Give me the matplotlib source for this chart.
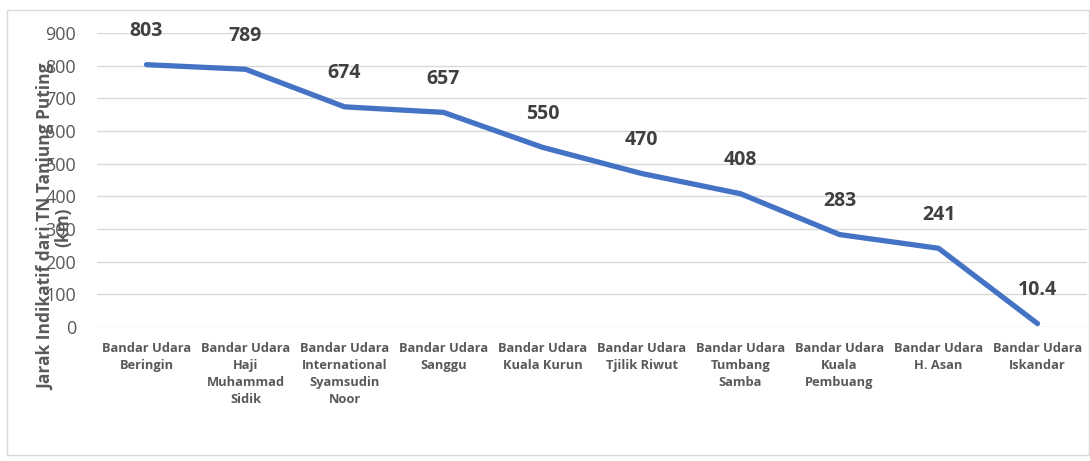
import matplotlib
matplotlib.use("Agg")
import matplotlib.pyplot as plt
from matplotlib.patches import Rectangle

categories = [
    "Bandar Udara\nBeringin",
    "Bandar Udara\nHaji\nMuhammad\nSidik",
    "Bandar Udara\nInternational\nSyamsudin\nNoor",
    "Bandar Udara\nSanggu",
    "Bandar Udara\nKuala Kurun",
    "Bandar Udara\nTjilik Riwut",
    "Bandar Udara\nTumbang\nSamba",
    "Bandar Udara\nKuala\nPembuang",
    "Bandar Udara\nH. Asan",
    "Bandar Udara\nIskandar",
]
values = [803, 789, 674, 657, 550, 470, 408, 283, 241, 10.4]
value_labels = ["803", "789", "674", "657", "550", "470", "408", "283", "241", "10.4"]
yticks = [0, 100, 200, 300, 400, 500, 600, 700, 800, 900]
ylabel = "Jarak Indikatif dari TN Tanjung Puting\n(km)"

plt.rcParams['font.family'] = ['Open Sans', 'DejaVu Sans']

fig = plt.figure(figsize=(10.9, 4.61), dpi=100)
fig.patches.append(Rectangle((7/1090, 6/461), 1 - 8/1090, 1 - 16/461,
                             transform=fig.transFigure, fill=False,
                             edgecolor="#D9D9D9", linewidth=1.0))
ax = fig.add_axes([97/1090, 1 - 327/461, 990/1090, 294/461])

x = list(range(len(values)))
ax.plot(x, values, color="#4472C4", linewidth=3.8, solid_capstyle="round",
        solid_joinstyle="round", zorder=3)
for xi, v, lab in zip(x, values, value_labels):
    ax.annotate(lab, (xi, v), xytext=(0, 17), textcoords="offset points",
                ha="center", va="bottom", fontsize=14, fontweight="bold",
                color="#404040")

ax.set_xlim(-0.5, len(values) - 0.5)
ax.set_ylim(0, 900)
ax.set_yticks(yticks)
ax.set_yticklabels([str(t) for t in yticks], fontsize=13, color="#595959")
ax.set_xticks(x)
ax.set_xticklabels(categories, fontsize=9.3, fontweight="bold", color="#595959",
                   linespacing=1.4)
ax.tick_params(axis="both", length=0)
ax.tick_params(axis="y", pad=15)
ax.tick_params(axis="x", pad=11)
ax.grid(axis="y", color="#D9D9D9", linewidth=1.0)
ax.set_axisbelow(True)
for s in ax.spines.values():
    s.set_visible(False)

fig.text(55/1090, 1 - 227/461, ylabel, rotation=90, ha="center", va="center",
         fontsize=12.5, fontweight="bold", color="#595959", multialignment="center",
         linespacing=0.95)

fig.savefig("out.png", dpi=100)
